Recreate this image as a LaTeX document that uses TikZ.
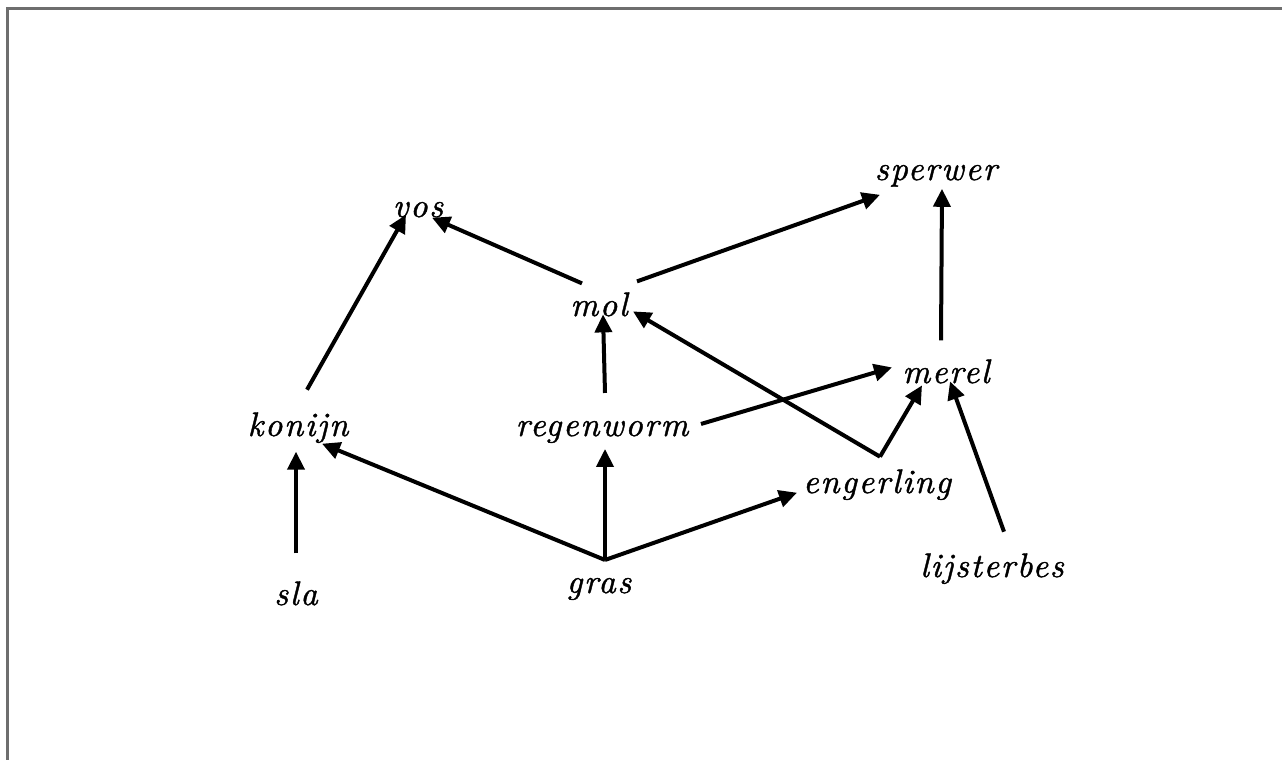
\documentclass[tikz,border=0pt]{standalone}
\usepackage{fontspec}
\newfontfamily\hand{lmroman10-italic}[Extension=.otf,LetterSpace=5,FakeBold=1.2]
\usetikzlibrary{arrows.meta,calc}
\definecolor{framegray}{HTML}{6E6E6E}
\tikzset{
  lbl/.style={anchor=base,inner sep=0pt,font=\hand\fontsize{34}{40}\selectfont},
  arr/.style={line width=4pt,-{Triangle[length=18pt,width=17pt]}}
}
\begin{document}
\begin{tikzpicture}[x=1pt,y=-1pt]
\useasboundingbox (0,0) rectangle (1282,760);
\draw[framegray,line width=2.5pt] (7.5,760) -- (7.5,8.5) -- (1282,8.5);
\node[lbl] (sperwer) at (936,180) {sperwer};
\node[lbl] (vos) at (418,217) {vos};
\node[lbl] (mol) at (599,316) {mol};
\node[lbl] (merel) at (946,383) {merel};
\node[lbl] (konijn) at (298,436) {konijn};
\node[lbl] (regenworm) at (602,436) {regenworm};
\node[lbl] (engerling) at (877,493) {engerling};
\node[lbl] (lijsterbes) at (992,577) {lijsterbes};
\node[lbl] (sla) at (296,605) {sla};
\node[lbl] (gras) at (599,593) {gras};
\coordinate (ghub) at ($(gras)+(6,-29)$);
\coordinate (ehub) at ($(engerling)+(3,-28)$);
\draw[arr] ($(sla)+(0,-40)$) -- ($(konijn)+(-2,24)$);
\draw[arr] (ghub) -- ($(konijn)+(24,16)$);
\draw[arr] (ghub) -- ($(regenworm)+(3,17)$);
\draw[arr] (ghub) -- ($(engerling)+(-80,8)$);
\draw[arr] ($(konijn)+(9,-38)$) -- ($(vos)+(-12,5)$);
\draw[arr] ($(regenworm)+(3,-39)$) -- ($(mol)+(4,10)$);
\draw[arr] ($(mol)+(-17,-21)$) -- ($(vos)+(14,8)$);
\draw[arr] ($(mol)+(38,-23)$) -- ($(sperwer)+(-56,19)$);
\draw[arr] ($(regenworm)+(99,-8)$) -- ($(merel)+(-54,-4)$);
\draw[arr] (ehub) -- ($(mol)+(34,7)$);
\draw[arr] (ehub) -- ($(merel)+(-24,14)$);
\draw[arr] ($(lijsterbes)+(12,-37)$) -- ($(merel)+(4,10)$);
\draw[arr] ($(merel)+(-5,-31)$) -- ($(sperwer)+(6,13)$);
\end{tikzpicture}
\end{document}
